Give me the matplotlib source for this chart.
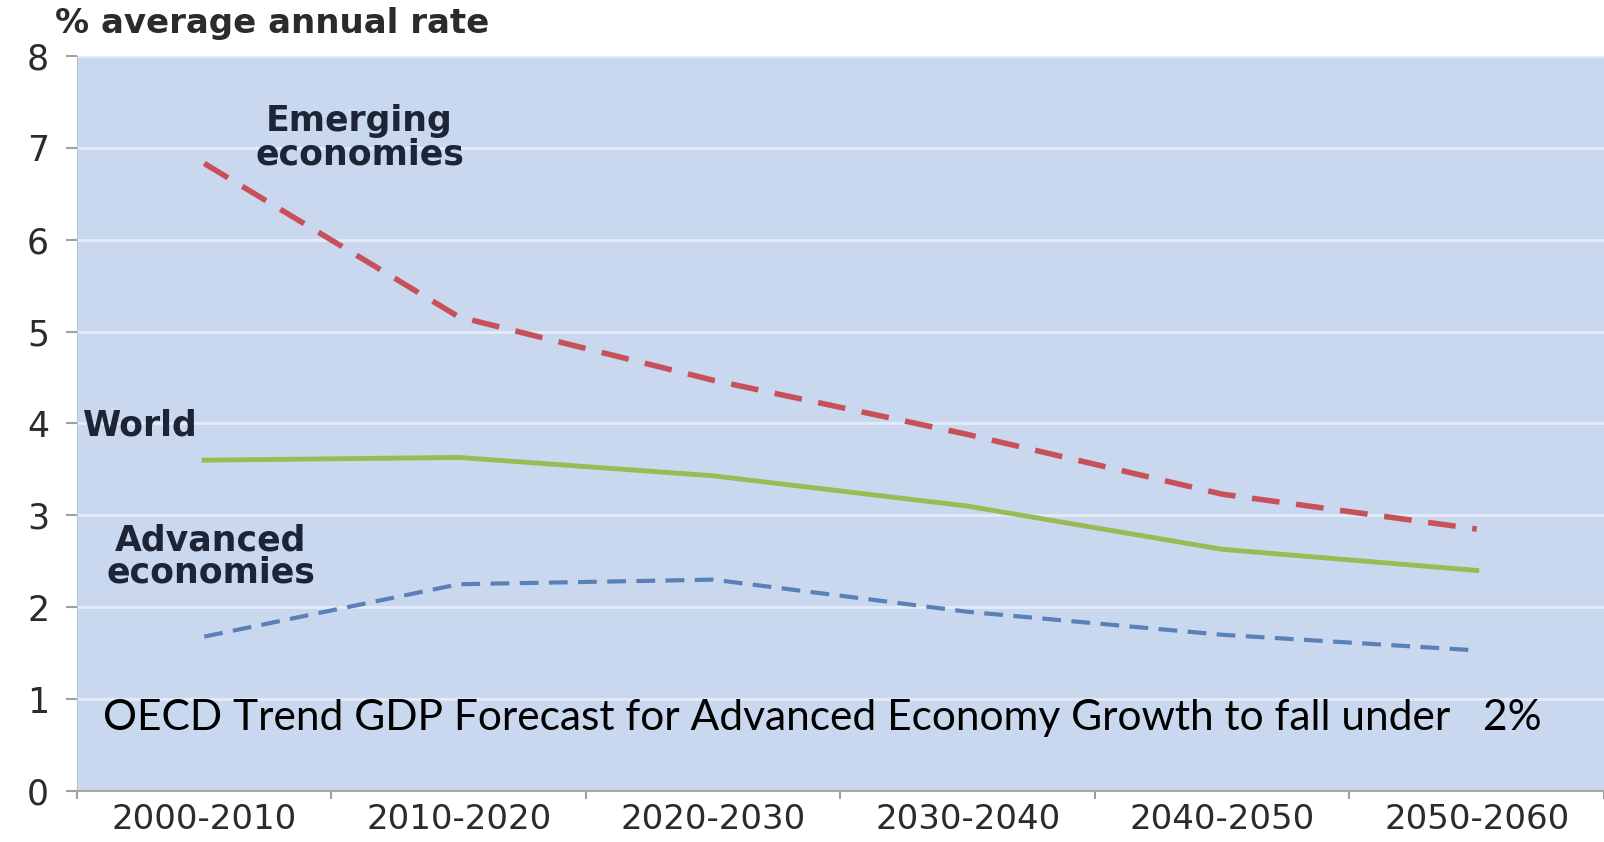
import numpy as np
import matplotlib.pyplot as plt

periods = ["2000-2010", "2010-2020", "2020-2030", "2030-2040", "2040-2050", "2050-2060"]
emerging = [6.83, 5.16, 4.47, 3.88, 3.23, 2.85]
world = [3.60, 3.63, 3.43, 3.10, 2.63, 2.40]
advanced = [1.68, 2.25, 2.30, 1.95, 1.70, 1.53]
y_ticks = [0, 1, 2, 3, 4, 5, 6, 7, 8]

fig = plt.figure(figsize=(16.04, 8.42), dpi=100)
ax = fig.add_axes([0.048, 0.0606, 0.952, 0.873])
ax.set_facecolor("#c9d8ee")

x = np.arange(len(periods))
for yv in y_ticks[1:]:
    ax.axhline(yv, color="#e3edf9", lw=2, zorder=1)

ax.plot(x, emerging, color="#c8505a", lw=4, dashes=(5, 3), zorder=3)
ax.plot(x, world, color="#98bb55", lw=3.5, zorder=3)
ax.plot(x, advanced, color="#5a80b8", lw=3, dashes=(4.5, 2.5), zorder=3)

ax.set_xlim(-0.5, len(periods) - 0.5)
ax.set_ylim(0, 8)
ax.set_yticks(y_ticks)
ax.set_xticks(x)
ax.set_xticklabels(periods)
ax.set_xticks(np.arange(len(periods) + 1) - 0.5, minor=True)
ax.tick_params(axis="x", which="major", length=0, pad=9, labelsize=24.5, labelcolor="#2b2b2b")
ax.tick_params(axis="x", which="minor", length=6, color="#a0a0a0", width=1.5)
ax.tick_params(axis="y", length=8, color="#a0a0a0", width=1.5, pad=12, labelsize=25, labelcolor="#2b2b2b")

for s in ["top", "right"]:
    ax.spines[s].set_visible(False)
ax.spines["left"].set_color("#b8c4d4")
ax.spines["bottom"].set_color("#a8a8a8")
ax.spines["bottom"].set_linewidth(1.5)

fig.text(0.034, 0.972, "% average annual rate", fontsize=24.5, fontweight="bold",
         color="#2b2b2b", va="center", ha="left")

lab = dict(fontsize=25, fontweight="bold", color="#1c2435", ha="center", va="center")
ax.text(0.61, 7.11, "Emerging\neconomies", linespacing=0.95, **lab)
ax.text(-0.25, 3.98, "World", **lab)
ax.text(0.025, 2.55, "Advanced\neconomies", linespacing=0.95, **lab)

ax.text(0.488, 0.79, "OECD Trend GDP Forecast for Advanced Economy Growth to fall under   2%",
        fontsize=30.6, family="Lato", color="black", ha="center", va="center",
        transform=ax.get_yaxis_transform())
fig.savefig("out.png", dpi=100)
